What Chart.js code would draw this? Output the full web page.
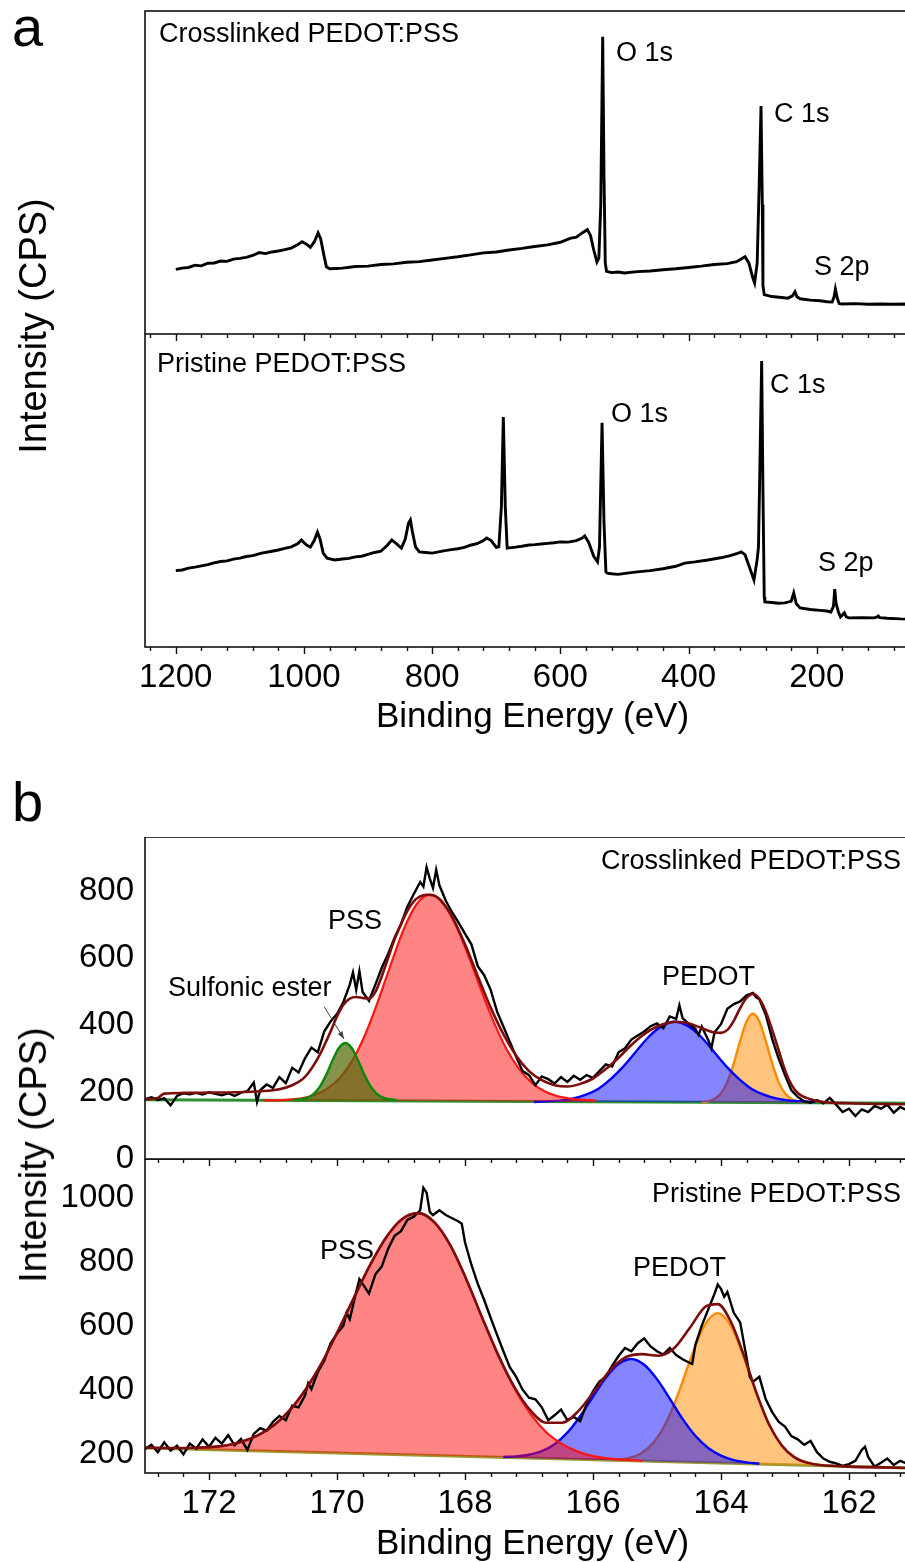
<!DOCTYPE html>
<html>
<head>
<meta charset="utf-8">
<script src="https://cdn.jsdelivr.net/npm/chart.js@4.4.1/dist/chart.umd.min.js"></script>
<style>
  html, body { margin: 0; padding: 0; background: #fff; width: 905px; height: 1562px; overflow: hidden; }
  #page { position: relative; width: 905px; height: 1562px; overflow: hidden; font-family: "Liberation Sans", Arial, sans-serif; color: #000; }
  canvas { position: absolute; left: 0; }
  .note { position: absolute; font-size: 27px; line-height: 1; white-space: nowrap; transform: translateY(-50%); }
  .letter { position: absolute; font-size: 56px; line-height: 1; }
  .ytitle { position: absolute; font-size: 38px; line-height: 1; white-space: nowrap; transform: translate(-50%, -50%) rotate(-90deg); }
</style>
</head>
<body>
<div id="page">
  <canvas id="a1" width="920" height="334" style="top:0px"></canvas>
  <canvas id="a2" width="920" height="401" style="top:334px"></canvas>
  <canvas id="b1" width="920" height="350" style="top:837px"></canvas>
  <canvas id="b2" width="920" height="403" style="top:1159px"></canvas>
  <div class="letter" style="left:12px; top:-1px">a</div>
  <div class="letter" style="left:12px; top:774px">b</div>
  <div class="ytitle" style="left:33px; top:326px">Intensity (CPS)</div>
  <div class="ytitle" style="left:33px; top:1155px">Intensity (CPS)</div>
</div>
<script>
// ---- axis ticks ----
const surveyTicks = [1200, 1000, 800, 600, 400, 200];
const coreTicks = [172, 170, 168, 166, 164, 162];
const crossYTicks = [0, 200, 400, 600, 800];
const pristineYTicks = [200, 400, 600, 800, 1000];

// ---- panel a: survey spectra [eV, intensity (a.u.)] ----
const crossSurvey = [
  [1200,20.0],[1190,20.4],[1180,20.6],[1170,21.3],[1160,21.1],[1150,21.9],[1140,22.0],[1130,22.6],[1120,22.5],
  [1110,23.2],[1100,23.4],[1090,23.7],[1080,24.3],[1070,25.2],[1060,24.9],[1050,25.4],[1040,25.7],[1030,26.1],
  [1020,26.6],[1010,27.6],[1003,28.6],[996,27.8],[990,26.8],[984,28.5],[978,31.3],[974,29.5],[969,24.5],[965,20.8],
  [960,20.2],[950,20.3],[940,20.4],[920,20.9],[900,21.0],[880,21.5],[860,21.7],[840,22.2],[820,22.4],[800,22.9],
  [780,23.4],[760,23.9],[740,24.5],[720,25.1],[700,25.4],[680,26.0],[660,26.5],[640,27.1],[620,27.6],[600,28.4],
  [585,29.6],[575,30.0],[566,31.3],[558,32.3],[553,30.5],[548,26.0],[543,22.3],[540,23.5],[537,40],[534,92.0],
  [532,50],[530,22],[528,19.4],[520,19.0],[510,19.2],[500,18.9],[480,19.3],[460,19.5],[440,19.9],[420,20.2],
  [400,20.6],[380,21.0],[360,21.5],[340,21.8],[325,22.4],[318,23.2],[312,23.9],[306,22.0],[300,17.5],[297,15.8],
  [293,22],[290,45],[287,70.6],[285,40],[284,15],[282,12.2],[270,11.6],[255,11.3],[245,11.1],[238,11.8],[234,13.1],
  [231,11.5],[226,10.9],[210,10.5],[195,10.3],[184,10.0],[176,9.9],[173,11.5],[171,13.9],[168,11.0],[165,9.4],
  [160,9.3],[140,9.4],[120,9.2],[100,9.3],[80,9.2],[60,9.3],[40,9.2]
];
const pristineSurvey = [
  [1200,24.4],[1190,24.6],[1180,25.2],[1170,25.5],[1160,25.9],[1150,26.3],[1142,26.8],[1130,27.3],[1120,27.5],
  [1110,28.1],[1100,28.4],[1090,28.9],[1080,29.2],[1066,30.0],[1050,30.6],[1040,31.0],[1030,31.5],[1020,32.0],
  [1010,33.0],[1004,34.2],[996,32.6],[990,31.9],[984,34.0],[979,36.7],[975,34.5],[970,30.0],[964,28.4],[952,27.8],
  [940,28.1],[930,28.3],[920,28.8],[910,29.0],[899,29.7],[890,30.2],[880,30.6],[870,32.5],[863,34.2],[856,33.0],
  [848,31.6],[842,34.5],[837,39.5],[834,40.6],[831,37.0],[826,32.0],[820,30.4],[810,30.2],[800,30.0],[790,30.4],
  [780,30.8],[770,31.1],[760,31.4],[750,31.8],[739,32.6],[730,33.0],[720,34.0],[715,34.8],[708,34.0],[700,31.8],
  [696,32.0],[692,45],[689,73.5],[686,45],[683,31.6],[670,31.9],[660,32.2],[649,32.6],[640,32.7],[630,32.9],
  [620,33.1],[610,33.3],[600,33.6],[588,33.5],[575,34.0],[566,34.8],[562,35.5],[556,33.5],[548,29.0],[542,27.2],
  [539,32],[535,71.6],[532,40],[529,24],[527,23.6],[520,23.4],[510,23.2],[496,23.6],[480,24.0],[460,24.4],
  [440,25.0],[420,25.8],[406,26.8],[390,27.2],[370,27.8],[350,28.5],[335,29.2],[325,29.8],[318,30.4],[312,29.5],
  [305,25.5],[298,21.4],[293,28],[291,31.9],[289,55],[286,91.4],[284,50],[282,16],[281,14.4],[270,14.2],[260,14.0],
  [250,14.1],[240,14.6],[236,17.3],[232,13.8],[226,12.5],[210,12.0],[195,11.7],[184,11.5],[178,11.2],[174,13.0],
  [172,18.5],[170,14.0],[166,11.0],[163,9.6],[160,10.2],[157,10.9],[154,9.6],[150,9.3],[130,9.4],[110,9.3],
  [106,9.6],[104,9.9],[102,9.4],[90,9.2],[70,9.0],[50,8.9],[40,8.9]
];

// ---- panel b, crosslinked S 2p [eV, CPS] ----
const crossRaw = [
  [173.0,178],[172.9,184],[172.8,176],[172.7,181],[172.6,160],[172.5,188],[172.4,196],[172.3,193],[172.2,197],
  [172.1,192],[172.0,199],[171.9,194],[171.8,190],[171.7,196],[171.6,188],[171.5,198],[171.4,202],[171.3,228],
  [171.25,170],[171.2,205],[171.1,222],[171.0,212],[170.9,244],[170.8,226],[170.7,272],[170.6,258],[170.5,300],
  [170.4,332],[170.3,318],[170.2,380],[170.1,410],[170.0,432],[169.9,468],[169.8,520],[169.75,556],[169.7,505],
  [169.65,560],[169.6,498],[169.5,472],[169.4,520],[169.3,570],[169.2,612],[169.1,660],[169.0,700],[168.9,752],
  [168.8,790],[168.7,826],[168.65,812],[168.6,870],[168.55,836],[168.5,808],[168.45,862],[168.4,816],[168.3,770],
  [168.2,735],[168.1,705],[168.0,672],[167.9,640],[167.8,575],[167.7,548],[167.6,505],[167.5,440],[167.4,395],
  [167.3,350],[167.2,305],[167.1,262],[167.0,250],[166.9,220],[166.8,246],[166.7,238],[166.6,225],[166.5,244],
  [166.4,230],[166.3,248],[166.2,236],[166.1,250],[166.0,242],[165.9,262],[165.8,282],[165.7,276],[165.6,318],
  [165.5,330],[165.4,356],[165.3,368],[165.2,380],[165.1,396],[165.0,404],[164.9,390],[164.8,425],[164.7,418],
  [164.65,458],[164.6,420],[164.5,402],[164.4,388],[164.35,370],[164.3,395],[164.2,355],[164.15,330],[164.1,378],
  [164.0,402],[163.9,448],[163.8,462],[163.7,470],[163.6,488],[163.5,495],[163.45,482],[163.4,476],[163.3,430],
  [163.2,358],[163.1,300],[163.0,250],[162.9,205],[162.8,185],[162.7,172],[162.6,168],[162.5,176],[162.4,166],
  [162.3,182],[162.2,162],[162.1,140],[162.0,150],[161.9,128],[161.8,148],[161.7,140],[161.6,158],[161.5,150],
  [161.4,162],[161.3,138],[161.2,155],[161.1,146],[161.0,150],[160.9,142]
];
const crossEnvelope = [
  [173.0,178],[172.8,182],[172.7,195],[172.4,197],[172.0,198],[171.6,199],[171.2,202],[170.9,208],[170.7,220],
  [170.5,245],[170.3,300],[170.1,380],[170.0,425],[169.9,460],[169.8,478],[169.7,483],[169.6,480],[169.5,478],
  [169.4,498],[169.3,545],[169.2,600],[169.1,655],[169.0,700],[168.9,740],[168.8,768],[168.7,783],[168.6,788],
  [168.5,786],[168.4,775],[168.3,752],[168.2,722],[168.0,640],[167.8,545],[167.6,452],[167.4,372],[167.2,308],
  [167.0,262],[166.8,235],[166.6,220],[166.4,216],[166.2,224],[166.0,240],[165.8,268],[165.6,302],[165.4,340],
  [165.2,372],[165.0,395],[164.8,407],[164.7,409],[164.5,404],[164.3,390],[164.1,377],[164.0,376],[163.9,385],
  [163.8,412],[163.7,450],[163.6,480],[163.5,492],[163.4,478],[163.3,440],[163.2,385],[163.1,325],[163.0,265],
  [162.9,222],[162.8,197],[162.6,178],[162.4,170],[162.0,166],[161.5,164],[160.9,163]
];
const crossPSS = [
  [171.15,175],[170.95,175],[170.75,177],[170.55,181],[170.35,191],[170.15,210],[169.95,243],[169.75,297],
  [169.55,375],[169.35,475],[169.15,585],[168.95,688],[168.75,761],[168.55,788],[168.35,765],[168.15,700],
  [167.95,608],[167.75,505],[167.55,408],[167.35,327],[167.15,267],[166.95,226],[166.75,201],[166.55,187],
  [166.35,180],[166.15,176],[165.95,174]
];
const crossEster = [
  [170.67,176],[170.57,178],[170.47,182],[170.37,193],[170.27,215],[170.17,250],[170.07,294],[169.97,331],
  [169.87,346],[169.77,331],[169.67,294],[169.57,250],[169.47,215],[169.37,193],[169.27,182],[169.17,178],[169.07,176]
];
const crossPEDOT1 = [
  [166.92,170],[166.72,172],[166.52,174],[166.32,180],[166.12,191],[165.92,209],[165.72,239],[165.52,277],
  [165.32,322],[165.12,366],[164.92,397],[164.72,409],[164.52,397],[164.32,366],[164.12,322],[163.92,277],
  [163.72,239],[163.52,209],[163.32,191],[163.12,180],[162.92,174],[162.72,172],[162.52,170]
];
const crossPEDOT2 = [
  [164.3,169],[164.2,172],[164.1,179],[164.0,196],[163.9,230],[163.8,285],[163.7,352],[163.6,410],[163.5,433],
  [163.4,410],[163.3,352],[163.2,285],[163.1,230],[163.0,196],[162.9,179],[162.8,172],[162.7,169]
];
const crossBackground = [[173.0,177],[160.9,166]];

// ---- panel b, pristine S 2p [eV, CPS] ----
const pristineRaw = [
  [173.0,215],[172.9,228],[172.8,205],[172.7,236],[172.6,210],[172.5,225],[172.4,198],[172.3,232],[172.2,216],
  [172.1,245],[172.0,222],[171.9,250],[171.8,232],[171.7,258],[171.6,226],[171.5,246],[171.4,212],[171.3,262],
  [171.2,280],[171.1,272],[171.0,300],[170.9,318],[170.8,305],[170.7,350],[170.6,345],[170.5,382],[170.45,420],
  [170.4,402],[170.3,455],[170.2,490],[170.1,545],[170.0,575],[169.9,600],[169.85,640],[169.8,620],[169.7,705],
  [169.65,745],[169.6,730],[169.5,700],[169.4,760],[169.3,785],[169.2,840],[169.1,880],[169.0,895],[168.9,930],
  [168.8,940],[168.7,960],[168.65,1030],[168.6,1015],[168.55,955],[168.5,945],[168.4,960],[168.3,945],[168.2,935],
  [168.1,925],[168.05,918],[168.0,860],[167.95,825],[167.9,790],[167.8,730],[167.7,680],[167.6,625],[167.5,572],
  [167.4,520],[167.3,470],[167.2,440],[167.1,400],[167.0,375],[166.9,370],[166.8,345],[166.7,305],[166.6,320],
  [166.5,338],[166.4,305],[166.3,315],[166.2,302],[166.1,355],[166.0,395],[165.9,425],[165.8,440],[165.7,475],
  [165.6,505],[165.5,530],[165.4,520],[165.3,545],[165.2,560],[165.1,535],[165.0,520],[164.9,510],[164.8,530],
  [164.7,508],[164.6,495],[164.5,485],[164.45,480],[164.4,540],[164.3,600],[164.2,650],[164.1,700],[164.05,728],
  [164.0,715],[163.95,690],[163.9,705],[163.8,640],[163.7,610],[163.6,500],[163.55,440],[163.5,425],[163.4,440],
  [163.3,370],[163.2,330],[163.1,300],[163.0,285],[162.9,255],[162.8,245],[162.7,228],[162.6,240],[162.5,205],
  [162.4,185],[162.3,175],[162.2,170],[162.1,162],[162.0,168],[161.9,178],[161.8,212],[161.75,222],[161.7,190],
  [161.6,160],[161.5,172],[161.4,185],[161.3,165],[161.2,178],[161.1,170],[161.0,182],[160.9,168]
];
const pristineEnvelope = [
  [173.0,219],[172.5,218],[172.23,219],[171.73,226],[171.48,238],[171.23,258],[170.98,290],[170.73,338],
  [170.48,404],[170.23,486],[169.98,585],[169.73,689],[169.48,790],[169.23,876],[168.98,933],[168.73,951],
  [168.48,923],[168.23,851],[167.98,745],[167.73,624],[167.48,508],[167.23,409],[166.98,336],[166.73,297],
  [166.48,297],[166.23,333],[165.98,395],[165.73,461],[165.48,502],[165.23,511],[164.98,506],[164.73,530],
  [164.48,595],[164.23,661],[164.05,667],[163.85,614],[163.65,511],[163.45,393],[163.25,292],[163.05,226],
  [162.85,189],[162.65,172],[162.45,165],[162.0,160],[161.5,157.6],[160.9,154.5]
];
const pristinePSS = [
  [172.23,218],[171.73,226],[171.48,238],[171.23,258],[170.98,290],[170.73,338],[170.48,404],[170.23,486],
  [169.98,585],[169.73,689],[169.48,790],[169.23,876],[168.98,933],[168.73,951],[168.48,923],[168.23,851],
  [167.98,745],[167.73,624],[167.48,507],[167.23,405],[166.98,325],[166.73,267],[166.48,230],[166.23,206],
  [165.98,192],[165.73,185],[165.23,178]
];
const pristinePEDOT1 = [
  [167.4,190],[167.2,192],[167.0,197],[166.8,208],[166.6,230],[166.4,266],[166.2,317],[166.0,378],[165.8,437],
  [165.6,480],[165.4,496],[165.2,478],[165.0,433],[164.8,372],[164.6,309],[164.4,256],[164.2,218],[164.0,194],
  [163.8,180],[163.6,173],[163.4,169]
];
const pristinePEDOT2 = [
  [165.65,181],[165.45,186],[165.25,201],[165.05,236],[164.85,300],[164.65,397],[164.45,510],[164.25,603],
  [164.05,639],[163.85,601],[163.65,506],[163.45,391],[163.25,292],[163.05,226],[162.85,189],[162.65,172],[162.45,165]
];
const pristineBackground = [[173.0,218],[160.9,154.5]];

// ---- text on the panels ----
const notes = [
  {t: 'Crosslinked PEDOT:PSS', x: 159, y: 33},
  {t: 'O 1s', x: 616, y: 52},
  {t: 'C 1s', x: 774, y: 113},
  {t: 'S 2p', x: 814, y: 266},
  {t: 'Pristine PEDOT:PSS', x: 157, y: 363},
  {t: 'O 1s', x: 611, y: 413},
  {t: 'C 1s', x: 770, y: 384},
  {t: 'S 2p', x: 818, y: 562},
  {t: 'Crosslinked PEDOT:PSS', r: 4, y: 860},
  {t: 'PSS', x: 328, y: 920},
  {t: 'Sulfonic ester', x: 168, y: 987},
  {t: 'PEDOT', x: 662, y: 976},
  {t: 'Pristine PEDOT:PSS', r: 4, y: 1193},
  {t: 'PSS', x: 320, y: 1250},
  {t: 'PEDOT', x: 633, y: 1267}
];
const page = document.getElementById('page');
notes.forEach(n => {
  const d = document.createElement('div');
  d.className = 'note';
  d.textContent = n.t;
  d.style.top = n.y + 'px';
  if (n.r !== undefined) d.style.right = n.r + 'px'; else d.style.left = n.x + 'px';
  page.appendChild(d);
});

Chart.defaults.font.family = '"Liberation Sans", Arial, sans-serif';
Chart.defaults.color = '#000';

const pts = a => a.map(p => ({x: p[0], y: p[1]}));

// frame, minor/major ticks and the little arrow
const frameTicks = {
  id: 'frameTicks',
  afterDraw(chart, args, o) {
    const {ctx, chartArea: ca} = chart;
    const xs = chart.scales.x;
    ctx.save();
    ctx.strokeStyle = '#111';
    ctx.lineWidth = 1.6;
    ctx.strokeRect(ca.left, ca.top, ca.right - ca.left, ca.bottom - ca.top);
    ctx.lineWidth = 1.4;
    const n = Math.round((o.from - o.to) / o.step);
    for (let i = 0; i <= n; i++) {
      const v = o.from - i * o.step;
      const major = Math.abs(v / o.majorStep - Math.round(v / o.majorStep)) < 1e-6;
      const len = major ? 7 : 4;
      const px = Math.round(xs.getPixelForValue(v)) + 0.5;
      ctx.beginPath();
      if (o.bottom) { ctx.moveTo(px, ca.bottom); ctx.lineTo(px, ca.bottom + len); }
      if (o.top) { ctx.moveTo(px, ca.top); ctx.lineTo(px, ca.top + len); }
      ctx.stroke();
    }
    if (o.arrow) {
      const ys = chart.scales.y;
      const x0 = xs.getPixelForValue(o.arrow[0][0]), y0 = ys.getPixelForValue(o.arrow[0][1]);
      const x1 = xs.getPixelForValue(o.arrow[1][0]), y1 = ys.getPixelForValue(o.arrow[1][1]);
      const ang = Math.atan2(y1 - y0, x1 - x0);
      ctx.strokeStyle = '#444';
      ctx.fillStyle = '#444';
      ctx.lineWidth = 1;
      ctx.beginPath(); ctx.moveTo(x0, y0); ctx.lineTo(x1, y1); ctx.stroke();
      ctx.beginPath();
      ctx.moveTo(x1, y1);
      ctx.lineTo(x1 - 8 * Math.cos(ang - 0.35), y1 - 8 * Math.sin(ang - 0.35));
      ctx.lineTo(x1 - 8 * Math.cos(ang + 0.35), y1 - 8 * Math.sin(ang + 0.35));
      ctx.closePath(); ctx.fill();
    }
    ctx.restore();
  }
};

function xAxis(show, min, max, ticks, height) {
  return {
    type: 'linear', reverse: true, min, max, display: show,
    grid: {display: false, drawTicks: false}, border: {display: false},
    ticks: {font: {size: 33}, padding: 11, maxRotation: 0, autoSkip: false, callback: v => String(v)},
    afterBuildTicks: s => { s.ticks = ticks.map(v => ({value: v})); },
    title: {display: show, text: 'Binding Energy (eV)', font: {size: 35, lineHeight: 1}, padding: {top: 0, bottom: 0}},
    afterFit: s => { s.height = height; s.paddingLeft = 0; s.paddingRight = 0; }
  };
}

function yAxis(min, max, ticks) {
  return {
    type: 'linear', min, max, display: true,
    grid: {display: false, drawTicks: false}, border: {display: false},
    ticks: {display: !!ticks, font: {size: 33}, padding: 11, callback: v => String(v)},
    afterBuildTicks: s => { if (ticks) s.ticks = ticks.map(v => ({value: v})); },
    afterFit: s => { s.width = 145; s.paddingTop = 0; s.paddingBottom = 0; }
  };
}

function lineSet(data, color, width, smooth, extra) {
  return Object.assign({
    data: pts(data), borderColor: color, borderWidth: width, pointRadius: 0,
    fill: false, tension: 0, cubicInterpolationMode: smooth ? 'monotone' : 'default'
  }, extra || {});
}

function makeChart(id, datasets, scales, padding, ticksOpt) {
  return new Chart(document.getElementById(id), {
    type: 'line',
    data: {datasets},
    options: {
      responsive: false, animation: false, devicePixelRatio: 1,
      layout: {padding},
      scales,
      plugins: {legend: {display: false}, tooltip: {enabled: false}, frameTicks: ticksOpt}
    },
    plugins: [frameTicks]
  });
}

const surveyMinor = {from: 1240, to: 40, step: 40, majorStep: 200};
const coreMinor = {from: 172.8, to: 161.2, step: 0.4, majorStep: 2};

// panel a
makeChart('a1', [lineSet(crossSurvey, '#000', 2.9, false)],
  {x: xAxis(false, 39, 1248, surveyTicks, 0), y: yAxis(0, 100, null)},
  {top: 11}, Object.assign({}, surveyMinor, {bottom: false, top: false}));
makeChart('a2', [lineSet(pristineSurvey, '#000', 2.9, false)],
  {x: xAxis(true, 39, 1248, surveyTicks, 88), y: yAxis(0, 100, null)},
  {}, Object.assign({}, surveyMinor, {bottom: true, top: true}));

// panel b, crosslinked (index 0 is drawn on top)
makeChart('b1', [
    lineSet(crossEnvelope, '#7d0c0c', 2.6, true),
    lineSet(crossRaw, '#000', 2.4, false),
    lineSet(crossEster, '#0a8a0a', 2.4, true, {fill: {target: 6}, backgroundColor: 'rgba(85,105,10,0.72)'}),
    lineSet(crossPSS, '#ff1414', 2.2, true, {fill: {target: 6}, backgroundColor: 'rgba(255,0,0,0.48)'}),
    lineSet(crossPEDOT1, '#0000ff', 2.4, true, {fill: {target: 6}, backgroundColor: 'rgba(0,0,255,0.48)'}),
    lineSet(crossPEDOT2, '#ff8a00', 2.4, true, {fill: {target: 6}, backgroundColor: 'rgba(255,140,0,0.5)'}),
    lineSet(crossBackground, '#2f8f2f', 3, false)
  ],
  {x: xAxis(false, 160.89, 173.0, coreTicks, 0), y: yAxis(0, 960, crossYTicks)},
  {bottom: 28}, Object.assign({}, coreMinor, {bottom: false, top: false, arrow: [[170.2, 454], [169.89, 358]]}));

// panel b, pristine
makeChart('b2', [
    lineSet(pristineEnvelope, '#7d0c0c', 2.6, true),
    lineSet(pristineRaw, '#000', 2.4, false),
    lineSet(pristinePSS, '#ff1414', 2.2, true, {fill: {target: 5}, backgroundColor: 'rgba(255,0,0,0.48)'}),
    lineSet(pristinePEDOT1, '#0000ff', 2.4, true, {fill: {target: 5}, backgroundColor: 'rgba(0,0,255,0.48)'}),
    lineSet(pristinePEDOT2, '#ff8a00', 2.4, true, {fill: {target: 5}, backgroundColor: 'rgba(255,140,0,0.5)'}),
    lineSet(pristineBackground, '#9a9a30', 3, false)
  ],
  {x: xAxis(true, 160.89, 173.0, coreTicks, 89), y: yAxis(140, 1120, pristineYTicks)},
  {}, Object.assign({}, coreMinor, {bottom: true, top: true}));
</script>
</body>
</html>
